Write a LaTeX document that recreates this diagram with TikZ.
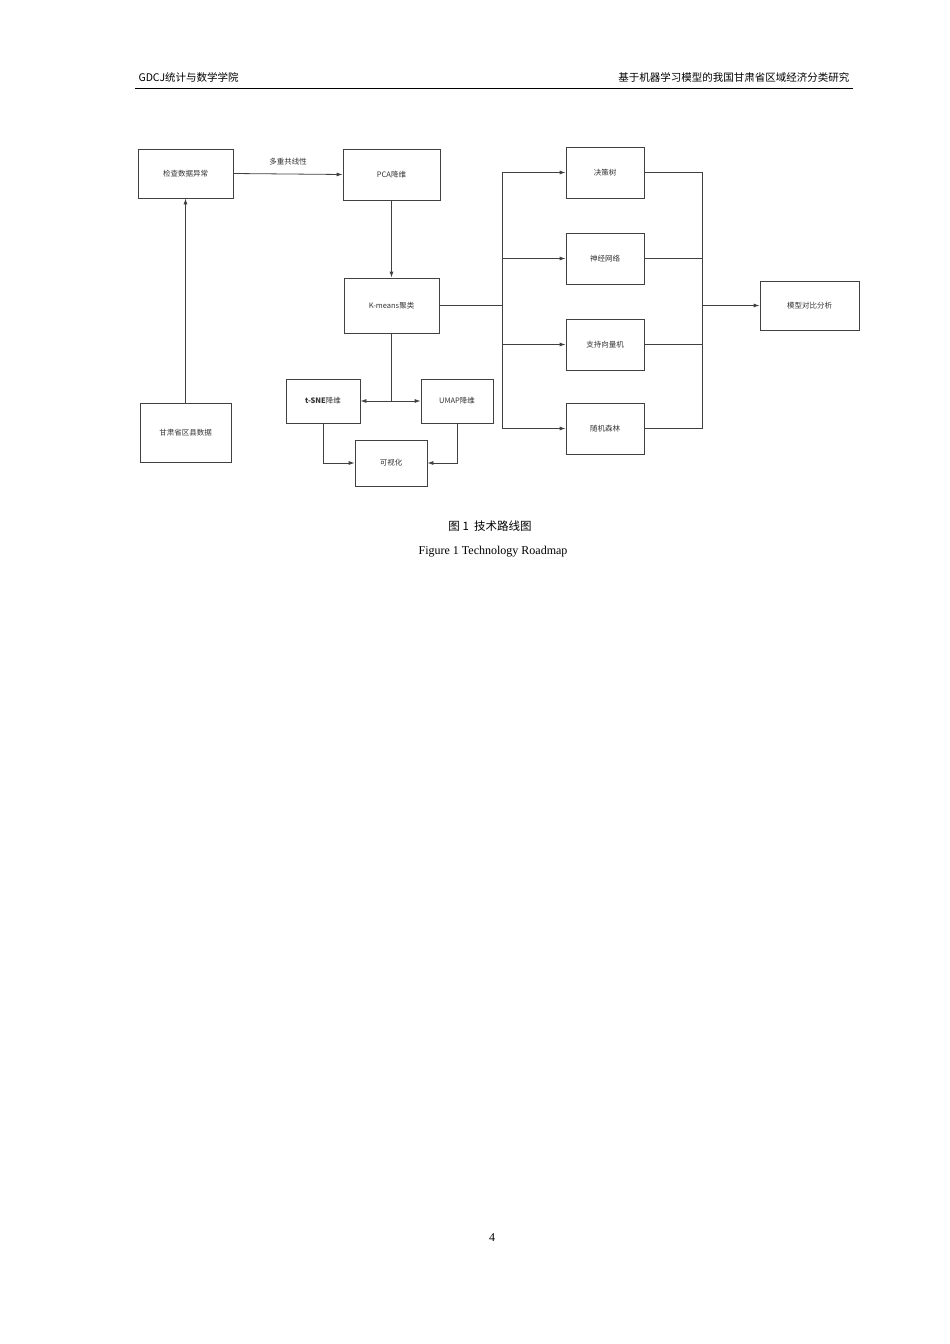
\documentclass[tikz,border=0pt]{standalone}
\usepackage{fontspec}
\setmainfont{Liberation Serif}
\newfontfamily\cjk{Noto Sans CJK SC}
\usetikzlibrary{arrows.meta}
\begin{document}
\begin{tikzpicture}[x=1pt,y=-1pt,
 box/.style={draw=black!75,line width=0.8pt,inner sep=0pt},
 lbl/.style={font=\cjk\fontsize{7.5}{9}\selectfont,text=black!80},
 ln/.style={draw=black!75,line width=0.8pt},
 ar/.style={ln,-{Latex[length=6pt,width=4pt]}}]
\useasboundingbox (0,0) rectangle (950,1344);
\node[font=\cjk\fontsize{10.5}{12}\selectfont,anchor=west] (hl) at (135,77) {GDCJ统计与数学学院};
\node[font=\cjk\fontsize{10.5}{12}\selectfont,anchor=east] (hr) at (853,77) {基于机器学习模型的我国甘肃省区域经济分类研究};
\coordinate (l1) at (135,88); \coordinate (l2) at (853,88);
\draw[line width=0.6pt] (l1) -- (l2);
% nodes
\node[box,minimum width=95,minimum height=49] (jc) at (185.5,173.5) {};
\node[lbl] at (jc) {检查数据异常};
\node[box,minimum width=97,minimum height=51] (pca) at (391.5,174.5) {};
\node[lbl] at (pca) {PCA降维};
\node[box,minimum width=95,minimum height=55] (km) at (391.5,305.5) {};
\node[lbl] at (km) {K-means聚类};
\node[box,minimum width=74,minimum height=44] (ts) at (323,401) {};
\node[lbl] at (ts) {\textbf{t-SNE}降维};
\node[box,minimum width=72,minimum height=44] (um) at (457,401) {};
\node[lbl] at (um) {UMAP降维};
\node[box,minimum width=72,minimum height=46] (vis) at (391,463) {};
\node[lbl] at (vis) {可视化};
\node[box,minimum width=91,minimum height=59] (gs) at (185.5,432.5) {};
\node[lbl] at (gs) {甘肃省区县数据};
\node[box,minimum width=78,minimum height=51] (m1) at (605,172.5) {};
\node[lbl] at (m1) {决策树};
\node[box,minimum width=78,minimum height=51] (m2) at (605,258.5) {};
\node[lbl] at (m2) {神经网络};
\node[box,minimum width=78,minimum height=51] (m3) at (605,344.5) {};
\node[lbl] at (m3) {支持向量机};
\node[box,minimum width=78,minimum height=51] (m4) at (605,428.5) {};
\node[lbl] at (m4) {随机森林};
\node[box,minimum width=99,minimum height=49] (cmp) at (809.5,305.5) {};
\node[lbl] at (cmp) {模型对比分析};
\node[lbl] (dc) at (288,162) {多重共线性};
% connectors
\draw[ar] (jc.east) -- (pca.west);
\draw[ar] (pca.south) -- (km.north);
\draw[ar] (gs.north) -- (jc.south);
\coordinate (br) at (391.5,401);
\draw[ln] (km.south) -- (br);
\draw[ar] (br) -- (ts.east);
\draw[ar] (br) -- (um.west);
\draw[ar] (ts.south) |- (vis.west);
\draw[ar] (um.south) |- (vis.east);
\coordinate (bl) at (502,305.5);
\draw[ln] (km.east) -- (bl);
\draw[ar] (bl) |- (m1.west);
\draw[ar] (bl) |- (m2.west);
\draw[ar] (bl) |- (m3.west);
\draw[ar] (bl) |- (m4.west);
\coordinate (brr) at (702,305.5);
\draw[ln] (m1.east) -| (brr);
\draw[ln] (m2.east) -| (brr);
\draw[ln] (m3.east) -| (brr);
\draw[ln] (m4.east) -| (brr);
\draw[ar] (brr) -- (cmp.west);
% captions
\node[font=\cjk\fontsize{11.5}{13}\selectfont] (c1) at (490,526) {图 1\ \ 技术路线图};
\node[font=\fontsize{12}{14}\selectfont] (c2) at (493,552) {Figure 1 Technology Roadmap};
\node[font=\fontsize{12}{14}\selectfont] (pg) at (492,1238) {4};
\end{tikzpicture}
\end{document}
